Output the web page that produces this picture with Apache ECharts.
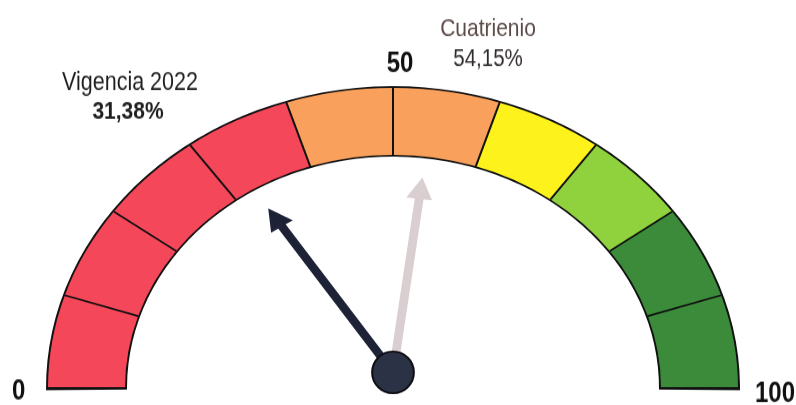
<!DOCTYPE html>
<html>
<head>
<meta charset="utf-8">
<script src="https://cdn.jsdelivr.net/npm/echarts@6/dist/echarts.min.js"></script>
<style>
html,body{margin:0;padding:0;background:#fff;overflow:hidden;}
#wrap{position:relative;width:796px;height:405px;overflow:hidden;}
#gauge{position:absolute;left:0;top:0;width:796px;height:466px;transform:scaleY(0.87);transform-origin:0 0;}
#labels{position:absolute;left:0;top:0;width:796px;height:338px;transform:scaleY(1.2);transform-origin:0 0;}
</style>
</head>
<body>
<div id="wrap"><div id="gauge"></div><div id="labels"></div></div>
<script>
// ---- data ----
const scaleMin = 0;
const scaleMax = 100;
const tickLabels = ['0', '50', '100'];
const bandStops = [0.4, 0.6, 0.7, 0.8, 1.0];
const bandColors = ['#f4475a', '#f9a05c', '#fdf21c', '#8fd23e', '#3b8b3a'];
const needleNames = ['Vigencia 2022', 'Cuatrienio'];
const needleValues = [31.38, 54.15];
const needleLabels = ['31,38%', '54,15%'];
const needleColors = ['#1d2236', '#d9cfd1'];

const gaugeChart = echarts.init(document.getElementById('gauge'), null, {renderer: 'canvas'});
const labelChart = echarts.init(document.getElementById('labels'), null, {renderer: 'canvas'});

const center = [393, 446];
const pivot = [393, 428];
const R = 345;
const bandW = 77;

const arrowPath = 'path://M50,0 L100,110 L67,110 L67,1000 L33,1000 L33,110 L0,110 Z';
const anchorPath = 'path://M0,57.5 A50,57.5 0 1,1 100,57.5 A50,57.5 0 1,1 0,57.5 Z';

gaugeChart.setOption({
  animation: false,
  series: [
    { // black outline
      type: 'gauge', center: center, radius: R + 2,
      startAngle: 180.4, endAngle: -0.4, min: scaleMin, max: scaleMax,
      axisLine: {lineStyle: {width: bandW + 4, color: [[1, '#111']]}},
      splitLine: {show: false}, axisTick: {show: false}, axisLabel: {show: false},
      pointer: {show: false}, anchor: {show: false}, title: {show: false}, detail: {show: false},
      data: [{value: 0}]
    },
    { // coloured band
      type: 'gauge', center: center, radius: R,
      startAngle: 180, endAngle: 0, min: scaleMin, max: scaleMax, splitNumber: 10,
      axisLine: {lineStyle: {width: bandW, color: bandStops.map((s, i) => [s, bandColors[i]])}},
      splitLine: {show: true, length: bandW, distance: -bandW, lineStyle: {color: '#111', width: 2}},
      axisTick: {show: false}, axisLabel: {show: false},
      pointer: {show: false}, anchor: {show: false}, title: {show: false}, detail: {show: false},
      data: [{value: 0}]
    },
    { // needles
      type: 'gauge', center: pivot, radius: R,
      startAngle: 180, endAngle: 0, min: scaleMin, max: scaleMax,
      axisLine: {show: false}, splitLine: {show: false}, axisTick: {show: false}, axisLabel: {show: false},
      pointer: {show: true, icon: arrowPath, length: 226, width: 26, keepAspect: false},
      anchor: {show: true, showAbove: true, size: 48, icon: anchorPath, keepAspect: true,
        itemStyle: {color: '#2b3246', borderColor: '#0d0d12', borderWidth: 2}},
      title: {show: false}, detail: {show: false},
      data: needleValues.map((v, i) => ({value: v, name: needleNames[i], itemStyle: {color: needleColors[i]}}))
    }
  ]
});

const sans = 'Liberation Sans, Arial, sans-serif';
labelChart.setOption({
  animation: false,
  title: [
    {text: needleNames[0], left: 130, top: 58, textAlign: 'center', padding: 0,
      textStyle: {fontFamily: sans, fontSize: 21.5, fontWeight: 'normal', color: '#1e1e1e'}},
    {text: needleLabels[0], left: 128, top: 83, textAlign: 'center', padding: 0,
      textStyle: {fontFamily: sans, fontSize: 21, fontWeight: 'bold', color: '#1e1e1e'}},
    {text: needleNames[1], left: 488, top: 14, textAlign: 'center', padding: 0,
      textStyle: {fontFamily: sans, fontSize: 21, fontWeight: 'normal', color: '#5b4a48'}},
    {text: needleLabels[1], left: 488, top: 39, textAlign: 'center', padding: 0,
      textStyle: {fontFamily: sans, fontSize: 20.5, fontWeight: 'normal', color: '#2e2a2a'}}
  ],
  series: [{
    type: 'gauge', center: [393, 324], radius: R,
    startAngle: 180, endAngle: 0, min: scaleMin, max: scaleMax, splitNumber: 10,
    axisLine: {show: false}, splitLine: {show: false, length: 0, distance: 0}, axisTick: {show: false},
    axisLabel: {
      show: true, distance: -57, color: '#111', fontSize: 24, fontWeight: 'bold', fontFamily: sans,
      formatter: function (v) {
        const s = String(v);
        if (tickLabels.indexOf(s) < 0) return '';
        if (v === scaleMin) return '{l|' + s + '}';
        if (v === scaleMax) return '{r|' + s + '}';
        return '{t|' + s + '}';
      },
      rich: {
        l: {padding: [4, 0, 0, 21], fontSize: 24, fontWeight: 'bold', color: '#111', fontFamily: sans},
        r: {padding: [8, 0, 0, 0], fontSize: 24, fontWeight: 'bold', color: '#111', fontFamily: sans},
        t: {padding: [119, 0, 0, 14], fontSize: 24, fontWeight: 'bold', color: '#111', fontFamily: sans}
      }
    },
    pointer: {show: false}, anchor: {show: false}, title: {show: false}, detail: {show: false},
    data: [{value: 0}]
  }]
});
</script>
</body>
</html>
